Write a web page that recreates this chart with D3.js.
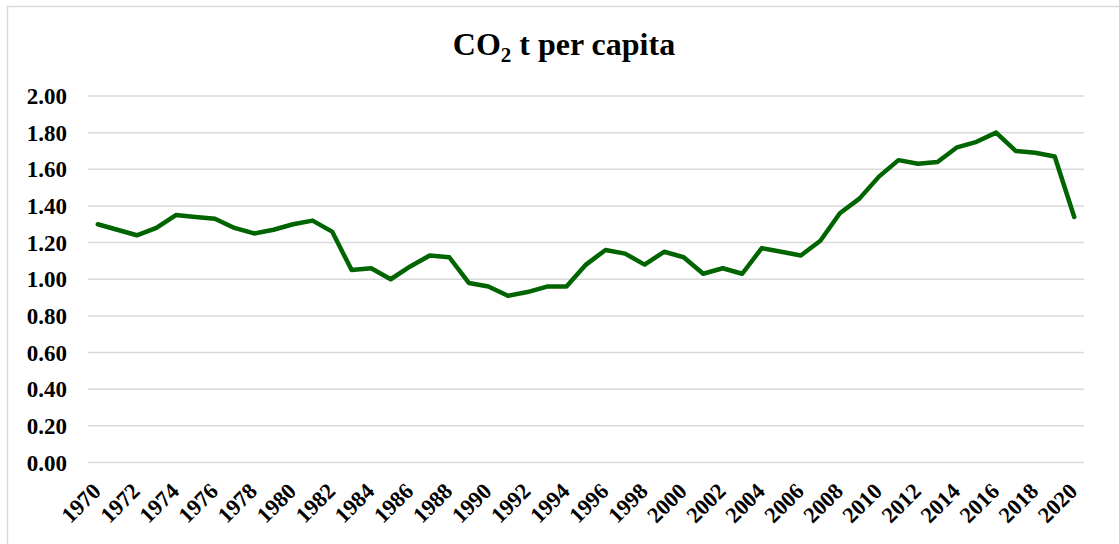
<!DOCTYPE html>
<html>
<head>
<meta charset="utf-8">
<script src="https://cdn.jsdelivr.net/npm/d3@7"></script>
<style>
  html, body { margin: 0; padding: 0; background: #fff; }
  svg { display: block; }
  text { font-family: "Liberation Serif", "Times New Roman", serif; font-weight: bold; fill: #000; }
</style>
</head>
<body>
<svg id="chart" width="1119" height="544"></svg>
<script>
const years = [1970,1971,1972,1973,1974,1975,1976,1977,1978,1979,1980,1981,1982,1983,1984,1985,1986,1987,1988,1989,1990,1991,1992,1993,1994,1995,1996,1997,1998,1999,2000,2001,2002,2003,2004,2005,2006,2007,2008,2009,2010,2011,2012,2013,2014,2015,2016,2017,2018,2019,2020];
const co2PerCapita = [1.30,1.27,1.24,1.28,1.35,1.34,1.33,1.28,1.25,1.27,1.30,1.32,1.26,1.05,1.06,1.00,1.07,1.13,1.12,0.98,0.96,0.91,0.93,0.96,0.96,1.08,1.16,1.14,1.08,1.15,1.12,1.03,1.06,1.03,1.17,1.15,1.13,1.21,1.36,1.44,1.56,1.65,1.63,1.64,1.72,1.75,1.80,1.70,1.69,1.67,1.34];
const yTicks = [0,0.2,0.4,0.6,0.8,1.0,1.2,1.4,1.6,1.8,2.0];
const xTickYears = years.filter(y => (y - 1970) % 2 === 0);

const svg = d3.select("#chart");
const W = 1119, H = 544;
const plot = { left: 88, right: 1084, top: 96, bottom: 462.5 };

// chart border
svg.append("rect")
  .attr("x", 7.5).attr("y", 6.5)
  .attr("width", W + 20).attr("height", H + 20)
  .attr("fill", "#fff").attr("stroke", "#d9d9d9").attr("stroke-width", 1.5);

const x = d3.scalePoint().domain(years).range([plot.left, plot.right]).padding(0.5);
const y = d3.scaleLinear().domain([0, 2]).range([plot.bottom, plot.top]);

// gridlines
svg.append("g")
  .selectAll("line")
  .data(yTicks)
  .join("line")
  .attr("x1", plot.left).attr("x2", plot.right)
  .attr("y1", d => y(d)).attr("y2", d => y(d))
  .attr("stroke", "#d9d9d9").attr("stroke-width", 1.5);

// y axis labels
const yAxis = d3.axisLeft(y).tickValues(yTicks).tickFormat(d3.format(".2f")).tickSize(0).tickPadding(0);
const yg = svg.append("g").attr("transform", `translate(${plot.left - 21},0)`).call(yAxis);
yg.select(".domain").remove();
yg.selectAll("text")
  .style("font-family", "'Liberation Serif', 'Times New Roman', serif")
  .style("font-weight", "bold")
  .style("font-size", "23px")
  .attr("fill", "#000")
  .attr("dy", "0.33em");

// x axis labels
const xAxis = d3.axisBottom(x).tickValues(xTickYears).tickSize(0).tickPadding(0);
const xg = svg.append("g").attr("transform", `translate(0,${plot.bottom})`).call(xAxis);
xg.select(".domain").remove();
xg.selectAll("text")
  .style("font-family", "'Liberation Serif', 'Times New Roman', serif")
  .style("font-weight", "bold")
  .style("font-size", "22.5px")
  .attr("fill", "#000")
  .attr("text-anchor", "end")
  .attr("y", 0).attr("dy", 0)
  .attr("transform", "translate(4,30) rotate(-45)");

// line
const line = d3.line()
  .x((d, i) => x(years[i]))
  .y(d => y(d))
  .curve(d3.curveLinear);

svg.append("path")
  .datum(co2PerCapita)
  .attr("d", line)
  .attr("fill", "none")
  .attr("stroke", "#006400")
  .attr("stroke-width", 4.5)
  .attr("stroke-linejoin", "round")
  .attr("stroke-linecap", "round");

// title
const title = svg.append("text")
  .attr("x", 564)
  .attr("y", 55)
  .attr("text-anchor", "middle")
  .style("font-size", "32px");
title.append("tspan").text("CO");
title.append("tspan").text("2").attr("dy", 7).style("font-size", "21px");
title.append("tspan").text(" t per capita").attr("dy", -7);
</script>
</body>
</html>
